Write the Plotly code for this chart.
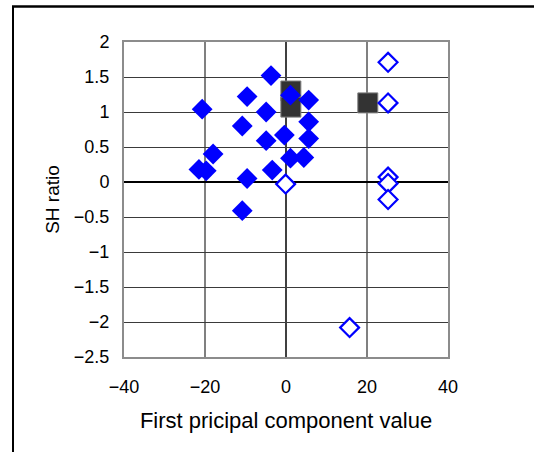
import plotly.graph_objects as go

# Filled diamonds
filled_x = [-3.7, -9.6, -20.7, -4.9, 1.1, 5.6, -10.8, 5.6, -0.4, -4.9, 5.6,
            -18.0, 1.1, 4.4, -21.5, -19.7, -3.4, -9.6, -10.8]
filled_y = [1.52, 1.22, 1.04, 1.00, 1.24, 1.17, 0.80, 0.86, 0.67, 0.59, 0.62,
            0.40, 0.34, 0.35, 0.18, 0.16, 0.17, 0.05, -0.41]

# Open diamonds
open_x = [-0.1, 25.2, 25.2, 25.2, 25.2, 25.2, 15.7]
open_y = [-0.03, 1.71, 1.13, 0.07, -0.02, -0.25, -2.08]

# Black squares
sq_x = [1.2, 1.2, 20.2]
sq_y = [1.30, 1.07, 1.13]

x_ticks = [-40, -20, 0, 20, 40]
x_ticklabels = ["\u221240", "\u221220", "0", "20", "40"]
y_ticks = [2, 1.5, 1, 0.5, 0, -0.5, -1, -1.5, -2, -2.5]
y_ticklabels = ["2", "1.5", "1", "0.5", "0", "\u22120.5", "\u22121", "\u22121.5", "\u22122", "\u22122.5"]

FONT = "Liberation Sans, Arial, sans-serif"

fig = go.Figure()
fig.add_trace(go.Scatter(
    x=sq_x, y=sq_y, mode="markers",
    marker=dict(symbol="square", size=20, color="#333333",
                line=dict(color="#808080", width=1)),
    showlegend=False, hoverinfo="skip"))
fig.add_trace(go.Scatter(
    x=filled_x, y=filled_y, mode="markers",
    marker=dict(symbol="diamond", size=16, color="#0000FF",
                line=dict(width=0)),
    showlegend=False))
fig.add_trace(go.Scatter(
    x=open_x, y=open_y, mode="markers",
    marker=dict(symbol="diamond", size=14.5, color="white",
                line=dict(color="#0000FF", width=2.2)),
    showlegend=False))

L, R, T, B = 124, 448, 42, 357
W, H = 534, 452

def px_x(p):
    return (p - L) / (R - L)

def px_y(p):
    return (B - p) / (B - T)

# outer frame, left edge
fig.add_shape(type="line", xref="paper", yref="paper",
              x0=px_x(13), x1=px_x(13), y0=px_y(460), y1=px_y(6),
              line=dict(color="black", width=2), layer="above")
# outer frame, top edge
fig.add_shape(type="line", xref="paper", yref="paper",
              x0=px_x(12), x1=px_x(540), y0=px_y(6.5), y1=px_y(6.5),
              line=dict(color="black", width=2.5), layer="above")

fig.update_layout(
    width=W, height=H,
    margin=dict(l=L, r=W - R, t=T, b=H - B, autoexpand=False),
    paper_bgcolor="white", plot_bgcolor="white",
    font=dict(family=FONT, size=18, color="black"),
    xaxis=dict(range=[-40, 40], tickvals=x_ticks, ticktext=x_ticklabels,
               showgrid=True, gridcolor="#808080", gridwidth=1.3,
               zeroline=True, zerolinecolor="#404040", zerolinewidth=1.3,
               showline=True, linecolor="#8c8c8c", linewidth=2, mirror=True,
               ticks="outside", ticklen=12, tickcolor="rgba(0,0,0,0)",
               title=dict(text="First pricipal component value",
                          font=dict(size=22), standoff=17),
               tickfont=dict(size=18)),
    yaxis=dict(range=[-2.5, 2], tickvals=y_ticks, ticktext=y_ticklabels,
               showgrid=True, gridcolor="#3a3a3a", gridwidth=1,
               zeroline=True, zerolinecolor="black", zerolinewidth=1.3,
               showline=True, linecolor="#8c8c8c", linewidth=2, mirror=True,
               ticks="outside", ticklen=9, tickcolor="rgba(0,0,0,0)",
               title=dict(text="SH ratio", font=dict(size=19), standoff=9),
               tickfont=dict(size=18)),
)

fig.write_html("out.html",
               config={"displayModeBar": False, "staticPlot": True},
               post_script="document.body.style.margin='0';document.body.style.overflow='hidden';")
